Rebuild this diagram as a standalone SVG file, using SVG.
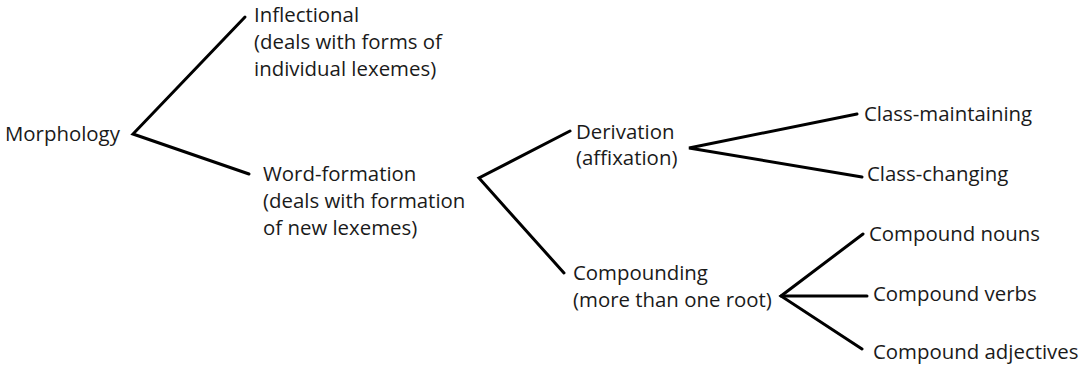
<svg xmlns="http://www.w3.org/2000/svg" width="1079" height="365" viewBox="0 0 1079 365">
<style>
text{font-family:"Open Sans","Noto Sans",sans-serif;font-size:20.4px;fill:#1a1a1a}
.c{stroke:#000;stroke-width:3;fill:none;stroke-linejoin:miter;stroke-linecap:round}
</style>
<rect width="1079" height="365" fill="#fff"/>
<g id="connectors">
<polyline class="c" points="245,17 133,134 249,174"/>
<polyline class="c" points="570,131 479,178 564,273"/>
<polyline class="c" points="857,114 689,148 862,177"/>
<polyline class="c" points="863,234 781,296 862,349"/>
<line class="c" x1="781" y1="296" x2="867" y2="296"/>
</g>
<g id="morphology"><text x="5" y="141">Morphology</text></g>
<g id="inflectional"><text x="254" y="22">Inflectional</text><text x="254" y="49">(deals with forms of</text><text x="254" y="76">individual lexemes)</text></g>
<g id="word-formation"><text x="263" y="181">Word-formation</text><text x="263" y="208">(deals with formation</text><text x="263" y="235">of new lexemes)</text></g>
<g id="derivation"><text x="576" y="139">Derivation</text><text x="576" y="165">(affixation)</text></g>
<g id="compounding"><text x="573" y="280">Compounding</text><text x="573" y="307">(more than one root)</text></g>
<g id="class-maintaining"><text x="864" y="121">Class-maintaining</text></g>
<g id="class-changing"><text x="867" y="181">Class-changing</text></g>
<g id="compound-nouns"><text x="869" y="241">Compound nouns</text></g>
<g id="compound-verbs"><text x="873" y="301">Compound verbs</text></g>
<g id="compound-adjectives"><text x="873" y="359">Compound adjectives</text></g>
</svg>
